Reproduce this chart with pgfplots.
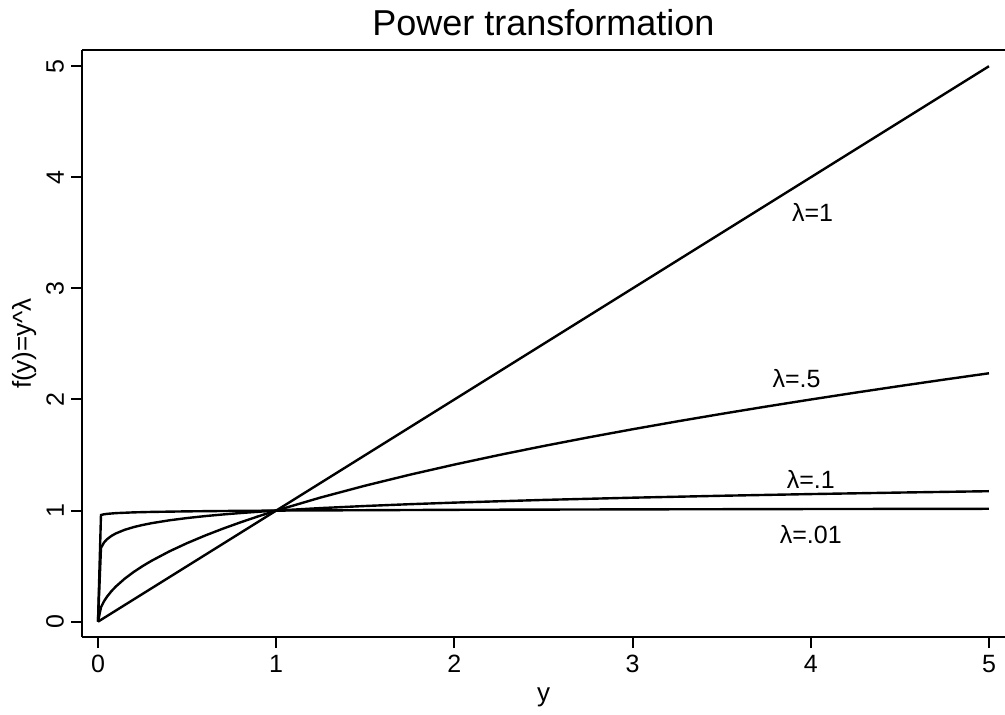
\documentclass[border=0pt]{standalone}
\usepackage{pgfplots}
\pgfplotsset{compat=1.18}
\usepackage{fontspec}
\setmainfont{Liberation Sans}
\usetikzlibrary{calc}
\tikzset{
  curvelab/.style={font=\fontsize{12.5}{15}\selectfont},
  curve/.style={black, line width=1.2pt, mark=none},
}

\begin{document}
\begin{tikzpicture}
\begin{axis}[
  name=ax,
  scale only axis,
  width=461.5pt, height=293.5pt,
  xmin=-0.0898, xmax=5.090,
  ymin=-0.138, ymax=5.146,
  separate axis lines,
  axis x line*=box,
  axis y line*=left,
  axis line style={-, line width=1pt, black},
  xtick={0,1,2,3,4,5}, xticklabels={0,1,2,3,4,5},
  ytick={0,1,2,3,4,5}, yticklabels={0,1,2,3,4,5},
  xtick pos=left, ytick pos=left,
  tick align=outside,
  major tick length=5.5pt,
  tick style={line width=1pt, black},
  every tick label/.append style={font=\fontsize{12.5}{15}\selectfont},
  yticklabel style={rotate=90, anchor=south},
  every axis title shift=0pt,
  title={Power transformation},
  title style={at={(axis description cs:0.5,1.0239)}, anchor=base,
               font=\fontsize{18}{21}\selectfont},
  xlabel={y},
  xlabel style={at={(axis description cs:0.5,-0.1099)}, anchor=base,
                font=\fontsize{13}{15}\selectfont},
  ylabel={f(y)=y\textasciicircum λ},
  ylabel style={at={(axis description cs:-0.0553,0.5)}, anchor=base,
                font=\fontsize{13}{15}\selectfont},
]
% lambda = 1
\addplot[curve] coordinates {(0,0) (5,5)};
% lambda = .5
\addplot[curve] coordinates {
 (0,0) (0.0167,0.1292) (0.0334,0.1828) (0.05,0.2236) (0.075,0.2739)
 (0.1,0.3162) (0.15,0.3873) (0.2,0.4472) (0.25,0.5) (0.3,0.5477)
 (0.4,0.6325) (0.5,0.7071) (0.6,0.7746) (0.7,0.8367) (0.8,0.8944)
 (0.9,0.9487) (1,1) (1.25,1.1180) (1.5,1.2247) (1.75,1.3229)
 (2,1.4142) (2.25,1.5) (2.5,1.5811) (2.75,1.6583) (3,1.7321)
 (3.25,1.8028) (3.5,1.8708) (3.75,1.9365) (4,2) (4.25,2.0616)
 (4.5,2.1213) (4.75,2.1794) (5,2.2361)};
% lambda = .1
\addplot[curve] coordinates {
 (0,0) (0.0167,0.6641) (0.0334,0.7118) (0.05,0.7411) (0.075,0.7718)
 (0.1,0.7943) (0.15,0.8272) (0.2,0.8513) (0.25,0.8706) (0.3,0.8866)
 (0.4,0.9124) (0.5,0.9330) (0.6,0.9502) (0.7,0.9650) (0.8,0.9779)
 (0.9,0.9895) (1,1) (1.25,1.0226) (1.5,1.0414) (1.75,1.0576)
 (2,1.0718) (2.5,1.0960) (3,1.1161) (3.5,1.1335) (4,1.1487)
 (4.5,1.1623) (5,1.1746)};
% lambda = .01
\addplot[curve] coordinates {
 (0,0) (0.0167,0.9599) (0.0334,0.9666) (0.05,0.9705) (0.1,0.9772)
 (0.2,0.9840) (0.3,0.9880) (0.5,0.9931) (0.7,0.9964) (1,1)
 (2,1.0070) (3,1.0110) (4,1.0140) (5,1.0162)};

\node[curvelab] at (axis cs:4.01,3.68) {λ=1};
\node[curvelab] at (axis cs:3.92,2.19) {λ=.5};
\node[curvelab] at (axis cs:4.00,1.28) {λ=.1};
\node[curvelab] at (axis cs:4.00,0.78) {λ=.01};
\end{axis}
\pgfresetboundingbox
\path[use as bounding box] ($(ax.south west)+(-41pt,-38.5pt)$) rectangle ($(ax.north east)+(0pt,25pt)$);
\end{tikzpicture}
\end{document}
